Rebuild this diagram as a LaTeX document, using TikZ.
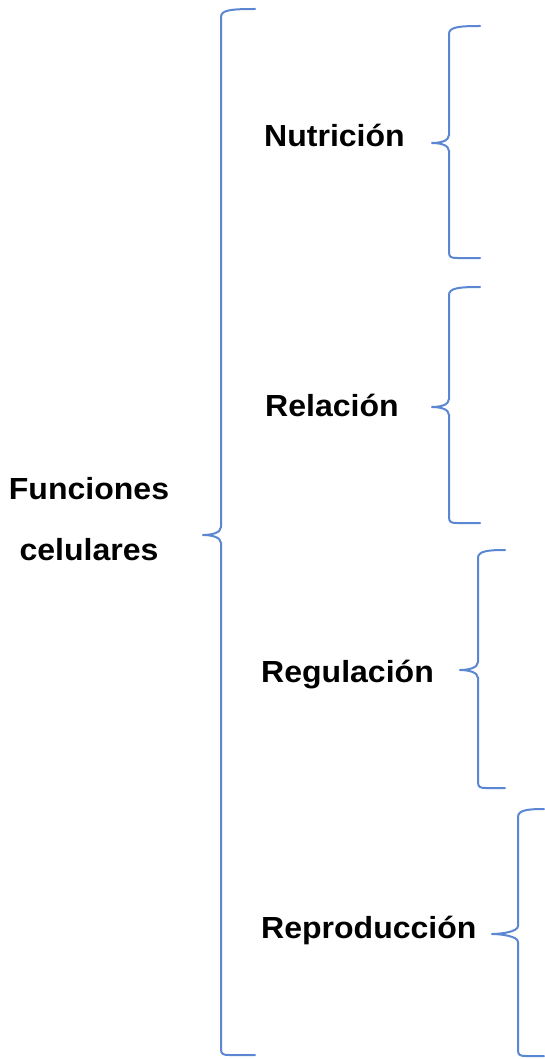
\documentclass[tikz,border=0pt]{standalone}
\usepackage{fontspec}
\setmainfont[FakeStretch=1.05]{Liberation Sans}
\definecolor{bracecol}{HTML}{5B86D2}
\tikzset{
  lbl/.style={font=\fontsize{30.5}{36}\selectfont\bfseries, inner sep=0pt, anchor=base west},
  bracestyle/.style={draw=bracecol, line width=2pt, line cap=round, line join=round}
}
% #1 x of spine, #2 top y, #3 bottom y, #4 tip y, #5 tip x, #6 right end x
\newcommand{\bluebrace}[6]{%
  \draw[bracestyle] (#6,#2) .. controls ({#1+10},#2) and (#1,{#2+1}) .. (#1,{#2+8})
    -- (#1,{#4-8}) .. controls (#1,{#4-2}) and ({#5+8},#4) .. (#5,#4)
    .. controls ({#5+8},#4) and (#1,{#4+2}) .. (#1,{#4+8})
    -- (#1,{#3-6}) .. controls (#1,{#3-1}) and ({#1+2},#3) .. ({#1+8},#3) -- (#6,#3);}
\begin{document}
\begin{tikzpicture}[x=1pt,y=-1pt]
\useasboundingbox (0,0) rectangle (544,1059);
\node[lbl, anchor=base] (f1) at (89,499) {Funciones};
\node[lbl, anchor=base] (f2) at (89,560) {celulares};
\node[lbl] (nut) at (264,147) {Nutrición};
\node[lbl] (rel) at (265,416) {Relación};
\node[lbl] (reg) at (261,682) {Regulación};
\node[lbl] (rep) at (261,938) {Reproducción};
\coordinate (bigtip) at (203,535);
\bluebrace{221}{9}{1055}{535}{203}{255}
\bluebrace{449}{26}{258}{143}{432}{480}
\bluebrace{449}{287}{523}{407}{432}{480}
\bluebrace{478}{550}{788}{670}{460}{505}
\bluebrace{518}{809}{1056}{934}{492}{544}
\end{tikzpicture}
\end{document}
